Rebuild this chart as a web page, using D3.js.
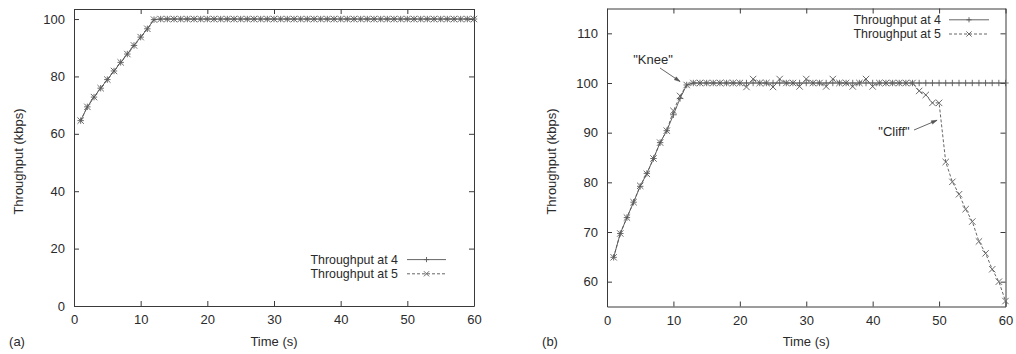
<!DOCTYPE html>
<html>
<head>
<meta charset="utf-8">
<script src="https://cdn.jsdelivr.net/npm/d3@7"></script>
<style>
  html, body { margin: 0; padding: 0; background: #fff; }
  svg { display: block; }
  text { font-family: "Liberation Sans", Arial, Helvetica, sans-serif; fill: #2a2a2a; }
</style>
</head>
<body>
<svg id="chart" width="1016" height="354"></svg>
<script>
// ---------------- data ----------------
const timeSeconds = [1,2,3,4,5,6,7,8,9,10,11,12,13,14,15,16,17,18,19,20,
  21,22,23,24,25,26,27,28,29,30,31,32,33,34,35,36,37,38,39,40,
  41,42,43,44,45,46,47,48,49,50,51,52,53,54,55,56,57,58,59,60];

// Panel (a): both series coincide
const throughputA4 = [64.6,69.4,72.8,75.9,78.9,81.9,84.9,87.8,90.8,93.7,96.6,99.8,
  100,100,100,100,100,100,100,100,100,100,100,100,100,100,100,100,100,100,
  100,100,100,100,100,100,100,100,100,100,100,100,100,100,100,100,100,100,
  100,100,100,100,100,100,100,100,100,100,100,100];
const throughputA5 = [64.6,69.4,72.8,75.9,78.9,81.9,84.9,87.8,90.8,93.7,96.6,99.8,
  100,100,100,100,100,100,100,100,100,100,100,100,100,100,100,100,100,100,
  100,100,100,100,100,100,100,100,100,100,100,100,100,100,100,100,100,100,
  100,100,100,100,100,100,100,100,100,100,100,100];

// Panel (b)
const throughputB4 = [64.9,69.7,72.9,76.0,79.2,81.8,84.8,88.0,90.4,93.6,96.9,99.6,
  100,100,100,100,100,100,100,100,100,100,100,100,100,100,100,100,100,100,
  100,100,100,100,100,100,100,100,100,100,100,100,100,100,100,100,100,100,
  100,100,100,100,100,100,100,100,100,100,100,100];
const throughputB5 = [64.9,69.7,72.9,76.0,79.3,81.7,84.8,88.0,90.4,94.4,97.4,99.6,
  100,100,100,100,100,100,100,100,99.2,100.8,100,100,99.2,100.8,100,100,99.3,100.8,
  100,100,99.3,100.8,100,100,99.3,100,100.8,99.3,100,100,100,100,100,100,98.4,97.6,
  96.0,96.0,84.1,80.1,77.6,74.6,72.1,68.1,65.7,62.5,60.0,56.1];

const xTicks = [0,10,20,30,40,50,60];
const yTicksA = [0,20,40,60,80,100];
const yTicksB = [60,70,80,90,100,110];
const seriesNames = ["Throughput at 4", "Throughput at 5"];
const panelLabels = ["(a)", "(b)"];
const xTitle = "Time (s)";
const yTitle = "Throughput (kbps)";
const annotations = [
  {text: "\"Knee\"", tx: 653, ty: 59, x1: 660, y1: 68, t: 11, v: 100.3},
  {text: "\"Cliff\"", tx: 894, ty: 131, x1: 914, y1: 130, t: 49.7, v: 92.5}
];

// ---------------- drawing ----------------
const svg = d3.select("#chart");
const AX = "#3a3a3a";
const LINE = "#555";
const MARK = "#5a5a5a";
const FS = 13;
const LFS = 12.4;

function drawPanel(p) {
  const x = d3.scaleLinear().domain([0, 60]).range([p.left, p.right]);
  const y = d3.scaleLinear().domain(p.yDomain).range([p.bottom, p.top]);
  const g = svg.append("g");

  // axes (inward ticks on all four sides, gnuplot style)
  const tl = 5;
  const axB = d3.axisBottom(x).tickValues(xTicks).tickSizeInner(-tl).tickSizeOuter(0).tickPadding(9);
  const axT = d3.axisTop(x).tickValues(xTicks).tickSizeInner(-tl).tickSizeOuter(0).tickFormat("");
  const axL = d3.axisLeft(y).tickValues(p.yTicks).tickSizeInner(-tl).tickSizeOuter(0).tickPadding(9);
  const axR = d3.axisRight(y).tickValues(p.yTicks).tickSizeInner(-tl).tickSizeOuter(0).tickFormat("");
  const gb = g.append("g").attr("transform", `translate(0,${p.bottom})`).call(axB);
  const gt = g.append("g").attr("transform", `translate(0,${p.top})`).call(axT);
  const gl = g.append("g").attr("transform", `translate(${p.left},0)`).call(axL);
  const gr = g.append("g").attr("transform", `translate(${p.right},0)`).call(axR);
  [gb, gt, gl, gr].forEach(a => {
    a.selectAll(".domain").attr("stroke", AX).attr("stroke-width", 1);
    a.selectAll(".tick line").attr("stroke", AX).attr("stroke-width", 1);
    a.selectAll("text").attr("font-size", FS).attr("font-family", "Liberation Sans, Arial, sans-serif").attr("fill", "#2a2a2a");
  });
  gb.selectAll("text").attr("dy", "0.71em");

  // clip for data
  const clipId = "clip" + p.id;
  svg.append("clipPath").attr("id", clipId).append("rect")
    .attr("x", p.left).attr("y", p.top - 4).attr("width", p.right - p.left + 4).attr("height", p.bottom - p.top + 8);
  const dg = g.append("g").attr("clip-path", `url(#${clipId})`);

  const line = d3.line().x(d => x(d[0])).y(d => y(d[1]));
  const s4 = timeSeconds.map((t, i) => [t, p.s4[i]]);
  const s5 = timeSeconds.map((t, i) => [t, p.s5[i]]);

  dg.append("path").datum(s4).attr("d", line).attr("fill", "none").attr("stroke", LINE).attr("stroke-width", 0.9);
  dg.append("path").datum(s5).attr("d", line).attr("fill", "none").attr("stroke", LINE).attr("stroke-width", 0.9).attr("stroke-dasharray", "3,2");

  const m = 3.2;
  dg.selectAll(".plus").data(s4).enter().append("path")
    .attr("d", d => `M${x(d[0]) - m},${y(d[1])}H${x(d[0]) + m}M${x(d[0])},${y(d[1]) - m}V${y(d[1]) + m}`)
    .attr("stroke", MARK).attr("stroke-width", 0.9).attr("fill", "none");
  dg.selectAll(".cross").data(s5).enter().append("path")
    .attr("d", d => `M${x(d[0]) - m},${y(d[1]) - m}L${x(d[0]) + m},${y(d[1]) + m}M${x(d[0]) - m},${y(d[1]) + m}L${x(d[0]) + m},${y(d[1]) - m}`)
    .attr("stroke", MARK).attr("stroke-width", 0.9).attr("fill", "none");

  // legend
  const lg = g.append("g");
  seriesNames.forEach((name, i) => {
    const ly = p.legY + i * 14.2;
    lg.append("text").attr("x", p.legTextX).attr("y", ly).attr("dy", "0.35em")
      .attr("text-anchor", "end").attr("font-size", LFS).text(name);
    lg.append("line").attr("x1", p.legX1).attr("x2", p.legX2).attr("y1", ly).attr("y2", ly)
      .attr("stroke", LINE).attr("stroke-width", 0.9).attr("stroke-dasharray", i ? "3,2" : null);
    const cx = (p.legX1 + p.legX2) / 2;
    const lm = 2.6;
    lg.append("path").attr("d", i
      ? `M${cx - lm},${ly - lm}L${cx + lm},${ly + lm}M${cx - lm},${ly + lm}L${cx + lm},${ly - lm}`
      : `M${cx - lm},${ly}H${cx + lm}M${cx},${ly - lm}V${ly + lm}`)
      .attr("stroke", MARK).attr("stroke-width", 0.9).attr("fill", "none");
  });

  // titles
  g.append("text").attr("x", (p.left + p.right) / 2).attr("y", 341).attr("dy", "0.35em")
    .attr("text-anchor", "middle").attr("font-size", FS).text(xTitle);
  g.append("text").attr("transform", `translate(${p.yTitleX},${(p.top + p.bottom) / 2 + 4}) rotate(-90)`)
    .attr("dy", "0.35em").attr("text-anchor", "middle").attr("font-size", FS).text(yTitle);
  g.append("text").attr("x", p.labelX).attr("y", 341).attr("dy", "0.35em")
    .attr("text-anchor", "middle").attr("font-size", FS).text(p.label);

  // annotations
  (p.annotations || []).forEach(a => {
    g.append("text").attr("x", a.tx).attr("y", a.ty).attr("dy", "0.35em")
      .attr("text-anchor", "middle").attr("font-size", FS).text(a.text);
    const x2 = x(a.t), y2 = y(a.v);
    g.append("line").attr("x1", a.x1).attr("y1", a.y1).attr("x2", x2).attr("y2", y2)
      .attr("stroke", "#555").attr("stroke-width", 0.9);
    const ang = Math.atan2(y2 - a.y1, x2 - a.x1);
    const hl = 6, hw = 0.3;
    const p1 = [x2 - hl * Math.cos(ang - hw), y2 - hl * Math.sin(ang - hw)];
    const p2 = [x2 - hl * Math.cos(ang + hw), y2 - hl * Math.sin(ang + hw)];
    g.append("path").attr("d", `M${p1[0]},${p1[1]}L${x2},${y2}L${p2[0]},${p2[1]}Z`)
      .attr("fill", "#555").attr("stroke", "#555").attr("stroke-width", 0.5);
  });
}

drawPanel({
  id: "a", left: 74, right: 474, top: 9, bottom: 306, yDomain: [0, 103.5], yTicks: yTicksA,
  s4: throughputA4, s5: throughputA5,
  legY: 259.6, legTextX: 398, legX1: 407, legX2: 446,
  yTitleX: 18, labelX: 17, label: panelLabels[0]
});
drawPanel({
  id: "b", left: 607, right: 1005.5, top: 8.5, bottom: 306.5, yDomain: [55, 115], yTicks: yTicksB,
  s4: throughputB4, s5: throughputB5,
  legY: 19.8, legTextX: 941, legX1: 949, legX2: 989,
  yTitleX: 551, labelX: 550, label: panelLabels[1],
  annotations: annotations
});
</script>
</body>
</html>
